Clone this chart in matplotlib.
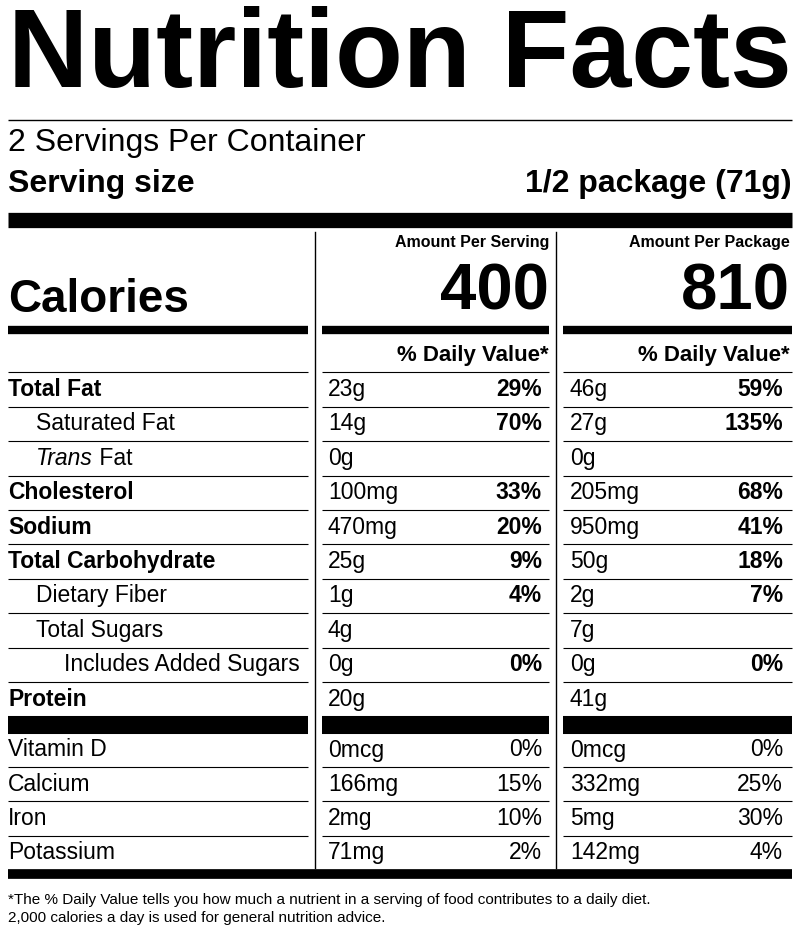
import matplotlib
matplotlib.use("Agg")
import matplotlib.pyplot as plt

nutrients = ["Total Fat", "Saturated Fat", "Trans Fat", "Cholesterol", "Sodium",
             "Total Carbohydrate", "Dietary Fiber", "Total Sugars", "Includes Added Sugars", "Protein"]
indent = [0, 1, 1, 0, 0, 0, 1, 1, 2, 0]
serv_amt = ["23g", "14g", "0g", "100mg", "470mg", "25g", "1g", "4g", "0g", "20g"]
serv_pct = ["29%", "70%", "", "33%", "20%", "9%", "4%", "", "0%", ""]
pkg_amt = ["46g", "27g", "0g", "205mg", "950mg", "50g", "2g", "7g", "0g", "41g"]
pkg_pct = ["59%", "135%", "", "68%", "41%", "18%", "7%", "", "0%", ""]
vitamins = ["Vitamin D", "Calcium", "Iron", "Potassium"]
vit_serv_amt = ["0mcg", "166mg", "2mg", "71mg"]
vit_serv_pct = ["0%", "15%", "10%", "2%"]
vit_pkg_amt = ["0mcg", "332mg", "5mg", "142mg"]
vit_pkg_pct = ["0%", "25%", "30%", "4%"]
cal_serv, cal_pkg = "400", "810"

plt.rcParams['font.family'] = ['Liberation Sans', 'DejaVu Sans']
fig = plt.figure(figsize=(8, 9.34), dpi=100)
ax = fig.add_axes([0, 0, 1, 1])
ax.set_xlim(0, 800); ax.set_ylim(934, 0); ax.axis('off')

def hl(y, x0, x1, lw):
    ax.plot([x0, x1], [y, y], color='black', lw=lw, solid_capstyle='butt')

ax.text(8, 58, "Nutrition Facts", fontsize=80, fontweight='bold', va='center', ha='left')
hl(120, 8, 792, 1)
ax.text(8, 143, "2 Servings Per Container", fontsize=23, va='center')
ax.text(8, 184, "Serving size", fontsize=23, fontweight='bold', va='center')
ax.text(792, 184, "1/2 package (71g)", fontsize=23, fontweight='bold', va='center', ha='right')
hl(220, 8, 792, 11)
ax.plot([315, 315], [232, 868], color='black', lw=1)
ax.plot([556, 556], [232, 868], color='black', lw=1)

ax.text(549, 242, "Amount Per Serving", fontsize=11.5, fontweight='bold', va='center', ha='right')
ax.text(790, 242, "Amount Per Package", fontsize=11.5, fontweight='bold', va='center', ha='right')
ax.text(549, 292, cal_serv, fontsize=47, fontweight='bold', va='center', ha='right')
ax.text(790, 292, cal_pkg, fontsize=47, fontweight='bold', va='center', ha='right')
ax.text(8, 300, "Calories", fontsize=33, fontweight='bold', va='center')

cols = [(8, 308), (322, 549), (563, 792)]
for x0, x1 in cols:
    hl(330, x0, x1, 6)
ax.text(549, 355, "% Daily Value*", fontsize=16, fontweight='bold', va='center', ha='right')
ax.text(790, 355, "% Daily Value*", fontsize=16, fontweight='bold', va='center', ha='right')

fs = 16.5
row_y0, row_h = 389.5, 34.4
fig.canvas.draw()
r = fig.canvas.get_renderer()
for i, name in enumerate(nutrients):
    y = row_y0 + i * row_h
    sep = y - row_h / 2
    for x0, x1 in cols:
        hl(sep, x0, x1, 0.8)
    x = 8 + indent[i] * 28
    bold = 'bold' if indent[i] == 0 else 'normal'
    if name == "Trans Fat":
        t = ax.text(x, y, "Trans", fontsize=fs, style='italic', va='center')
        bb = t.get_window_extent(r)
        ax.text(x + bb.width, y, " Fat", fontsize=fs, va='center')
    else:
        ax.text(x, y, name, fontsize=fs, fontweight=bold, va='center')
    ax.text(328, y, serv_amt[i], fontsize=fs, va='center')
    ax.text(542, y, serv_pct[i], fontsize=fs, fontweight='bold', va='center', ha='right')
    ax.text(570, y, pkg_amt[i], fontsize=fs, va='center')
    ax.text(783, y, pkg_pct[i], fontsize=fs, fontweight='bold', va='center', ha='right')

for x0, x1 in cols:
    hl(725, x0, x1, 13)

vy0 = 750
for i, name in enumerate(vitamins):
    y = vy0 + i * 34.2
    if i > 0:
        for x0, x1 in cols:
            hl(y - 17, x0, x1, 0.8)
    ax.text(8, y, name, fontsize=fs, va='center')
    ax.text(328, y, vit_serv_amt[i], fontsize=fs, va='center')
    ax.text(542, y, vit_serv_pct[i], fontsize=fs, va='center', ha='right')
    ax.text(570, y, vit_pkg_amt[i], fontsize=fs, va='center')
    ax.text(783, y, vit_pkg_pct[i], fontsize=fs, va='center', ha='right')

hl(874, 8, 792, 7)
ax.text(8, 900, "*The % Daily Value tells you how much a nutrient in a serving of food contributes to a daily diet.",
        fontsize=11, va='center')
ax.text(8, 918, "2,000 calories a day is used for general nutrition advice.", fontsize=11, va='center')

fig.savefig("out.png", dpi=100)
